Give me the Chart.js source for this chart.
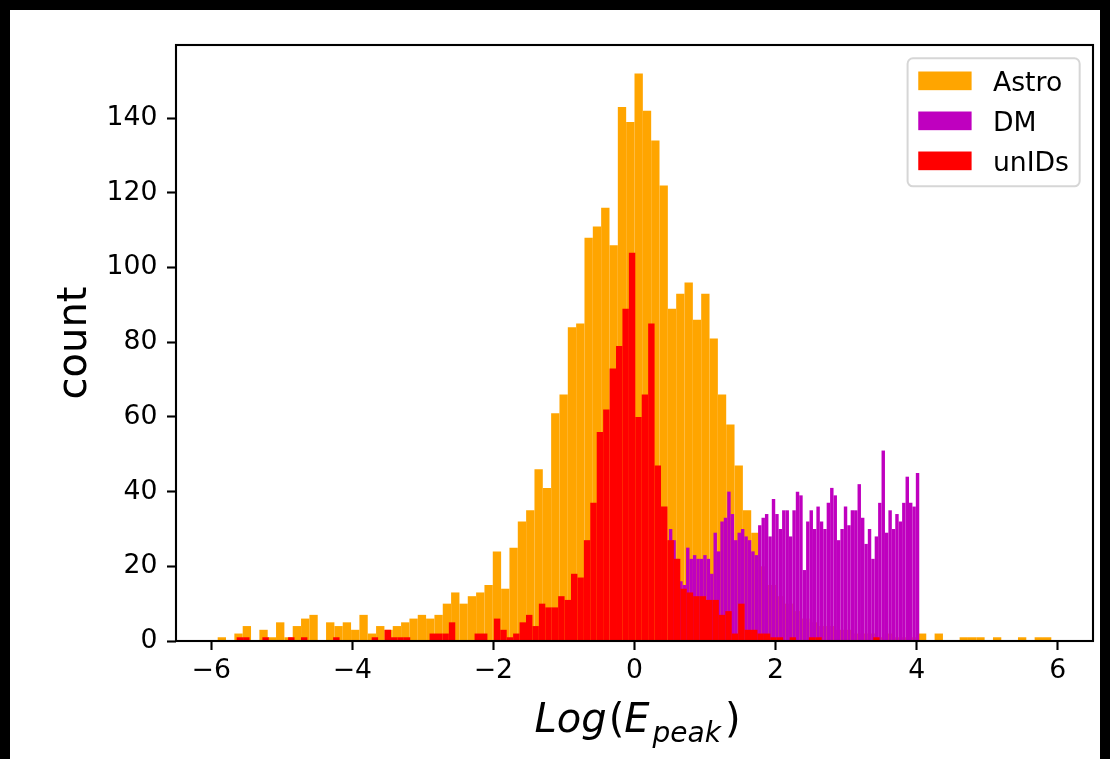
<!DOCTYPE html>
<html>
<head>
<meta charset="utf-8">
<script src="https://cdn.jsdelivr.net/npm/chart.js@4.4.1/dist/chart.umd.min.js"></script>
<style>
  html, body { margin: 0; padding: 0; background: #000; width: 1110px; height: 759px; overflow: hidden; }
  #paper { position: absolute; left: 10px; top: 10px; width: 1090px; height: 749px; background: #fff; }
  #c { position: absolute; left: 0; top: 0; }
</style>
</head>
<body>
<div id="paper"></div>
<canvas id="c" width="1110" height="759"></canvas>
<script>
// ---------------- data (histogram counts, 3 samples) ----------------
const seriesLabels = ['Astro', 'DM', 'unIDs'];

const astroRange = [-5.909, 5.909];
const astroCounts = [1,0,2,4,0,3,1,5,1,4, 6,7,0,5,4,5,3,7,2,4, 3,4,5,6,7,6,7,10,13,10,
  12,13,15,24,14,25,32,35,46,41, 61,66,84,85,108,111,116,106,143,139,
  152,142,134,122,89,93,96,86,93,81, 66,58,47,35,29,20,15,12,10,8,
  6,5,4,4,3,3,2,2,2,1, 2,1,1,1,2,0,2,0,0,1, 1,1,0,1,0,0,1,0,1,1];

const dmRange = [0.488, 4.037];
const dmCounts = [30,27,22,16,15,25,22,23,22, 22,23,22,18,29,24,32,33,40,34,
  27,29,30,28,27,24,23,31,33,34, 28,38,34,30,35,35,28,35,40,39,
  19,32,35,30,36,32,30,37, 41,39,27,30,36,31,35,35,42,33,
  26,30,22,28,37,51,29,35,30,34, 32,37,44,37,36,45];

const unidRange = [-5.64, 3.475];
const unidCounts = [1,1,0,0,1,0,0,0,1,0, 1,0,0,0,0,1,0,0,0,0, 0,1,0,3,1,1,1,0,0,0,
  2,2,2,5,0,0,0,2,2,0, 6,3,1,2,5,7,4,10,9,9, 12,11,18,17,27,37,56,62,73,79,
  89,104,60,66,85,47,36,27,22,14, 13,12,12,11,11,7,8,2,10,3,
  3,2,2,1,1,0,1,0,0,1, 1,0,0,0,0,0,0,0,0,1];

const xTickValues = [-6, -4, -2, 0, 2, 4, 6];
const yTickValues = [0, 20, 40, 60, 80, 100, 120, 140];
const xLimits = [-6.5, 6.5];
const yLimits = [0, 159.6];

// ---------------- helpers ----------------
function toBins(range, counts) {
  const w = (range[1] - range[0]) / counts.length;
  return counts.map((c, i) => ({ x: range[0] + (i + 0.5) * w, y: c }));
}
const FONT = '"DejaVu Sans", "Liberation Sans", sans-serif';
const FS = 26.67;   // 10pt at 192 dpi
const LFS = 40;     // axis label size

const hiddenX = () => ({
  type: 'linear', position: 'bottom', display: false,
  min: xLimits[0], max: xLimits[1], offset: false
});

const framePlugin = {
  id: 'frame',
  afterDatasetsDraw(chart) {
    const { ctx, chartArea: a } = chart;
    ctx.save();
    ctx.strokeStyle = '#000';
    ctx.lineWidth = 2.1;
    ctx.strokeRect(a.left, a.top, a.right - a.left, a.bottom - a.top);
    ctx.restore();
  }
};

// x-axis label with subscript (mathtext style)
const xLabelPlugin = {
  id: 'xlabel',
  afterDraw(chart) {
    const { ctx, chartArea: a } = chart;
    const parts = [
      { t: 'Log', f: 'italic ' + LFS + 'px ' + FONT, dy: 0, gap: 2 },
      { t: '(', f: LFS + 'px ' + FONT, dy: 0, gap: 0 },
      { t: 'E', f: 'italic ' + LFS + 'px ' + FONT, dy: 0, gap: 3 },
      { t: 'peak', f: 'italic ' + (LFS * 0.7) + 'px ' + FONT, dy: 10, gap: 4 },
      { t: ')', f: LFS + 'px ' + FONT, dy: 0, gap: 0 }
    ];
    ctx.save();
    let total = 0;
    parts.forEach(p => { ctx.font = p.f; p.w = ctx.measureText(p.t).width; total += p.w + p.gap; });
    let x = (a.left + a.right) / 2 - total / 2 + 3;
    const base = a.bottom + 91;
    ctx.fillStyle = '#000';
    ctx.textBaseline = 'alphabetic';
    ctx.textAlign = 'left';
    parts.forEach(p => { ctx.font = p.f; ctx.fillText(p.t, x, base + p.dy); x += p.w + p.gap; });
    ctx.restore();
  }
};

// matplotlib-like legend box (upper right)
const legendPlugin = {
  id: 'mplLegend',
  afterDraw(chart) {
    const { ctx, chartArea: a } = chart;
    const items = chart.data.datasets.map(d => ({ label: d.label, color: d.backgroundColor }));
    ctx.save();
    ctx.font = FS + 'px ' + FONT;
    const textW = Math.max(...items.map(it => ctx.measureText(it.label).width));
    const pad = 0.4 * FS, hl = 2 * FS, hh = 0.7 * FS, htp = 0.8 * FS, ls = 0.5 * FS, rowH = FS;
    const w = 2 * pad + hl + htp + textW;
    const h = 2 * pad + items.length * rowH + (items.length - 1) * ls;
    const x0 = a.right - 0.5 * FS - w, y0 = a.top + 0.5 * FS;
    ctx.beginPath();
    ctx.roundRect(x0, y0, w, h, 0.2 * FS);
    ctx.fillStyle = 'rgba(255,255,255,0.8)';
    ctx.fill();
    ctx.lineWidth = 2;
    ctx.strokeStyle = 'rgba(204,204,204,0.8)';
    ctx.stroke();
    items.forEach((it, i) => {
      const cy = y0 + pad + i * (rowH + ls) + rowH / 2 - 1.5;
      ctx.fillStyle = it.color;
      ctx.fillRect(x0 + pad, cy - hh / 2, hl, hh);
      ctx.fillStyle = '#000';
      ctx.textAlign = 'left';
      ctx.textBaseline = 'alphabetic';
      ctx.fillText(it.label, x0 + pad + hl + htp, cy + 0.3645 * FS);
    });
    ctx.restore();
  }
};

const common = { grouped: false, categoryPercentage: 1, barPercentage: 1, borderWidth: 0, inflateAmount: 0 };

new Chart(document.getElementById('c'), {
  type: 'bar',
  data: {
    datasets: [
      Object.assign({ label: seriesLabels[0], data: toBins(astroRange, astroCounts), backgroundColor: '#ffa500', xAxisID: 'xa', order: 3 }, common),
      Object.assign({ label: seriesLabels[1], data: toBins(dmRange, dmCounts), backgroundColor: '#bf00bf', xAxisID: 'xd', order: 2 }, common),
      Object.assign({ label: seriesLabels[2], data: toBins(unidRange, unidCounts), backgroundColor: '#ff0000', xAxisID: 'xu', order: 1 }, common)
    ]
  },
  options: {
    responsive: false,
    animation: false,
    devicePixelRatio: 1,
    layout: { padding: { top: 45, right: 17, bottom: 0, left: 0 } },
    plugins: { legend: { display: false }, tooltip: { enabled: false } },
    scales: {
      x: {
        type: 'linear', position: 'bottom', min: xLimits[0], max: xLimits[1], offset: false,
        afterFit: s => { s.height = 118; },
        afterBuildTicks: s => { s.ticks = xTickValues.map(v => ({ value: v })); },
        ticks: {
          font: { family: FONT, size: FS, lineHeight: 1.2 }, color: '#000', padding: 5,
          maxRotation: 0, autoSkip: false,
          callback: v => (v < 0 ? '\u2212' + Math.abs(v) : String(v))
        },
        grid: { display: true, drawOnChartArea: false, drawTicks: true, tickLength: 9, tickWidth: 2.1, tickColor: '#000', offset: false },
        border: { display: false }
      },
      xa: hiddenX(), xd: hiddenX(), xu: hiddenX(),
      y: {
        type: 'linear', position: 'left', min: yLimits[0], max: yLimits[1],
        afterFit: s => { s.width = 176; },
        afterBuildTicks: s => { s.ticks = yTickValues.map(v => ({ value: v })); },
        ticks: { font: { family: FONT, size: FS, lineHeight: 1.2 }, color: '#000', padding: 9.5, autoSkip: false },
        grid: { display: true, drawOnChartArea: false, drawTicks: true, tickLength: 9, tickWidth: 2.1, tickColor: '#000' },
        border: { display: false },
        title: { display: true, text: 'count', color: '#000', font: { family: FONT, size: LFS, lineHeight: 1.2 }, padding: { top: 52, bottom: 0 } }
      }
    }
  },
  plugins: [framePlugin, xLabelPlugin, legendPlugin]
});
</script>
</body>
</html>
